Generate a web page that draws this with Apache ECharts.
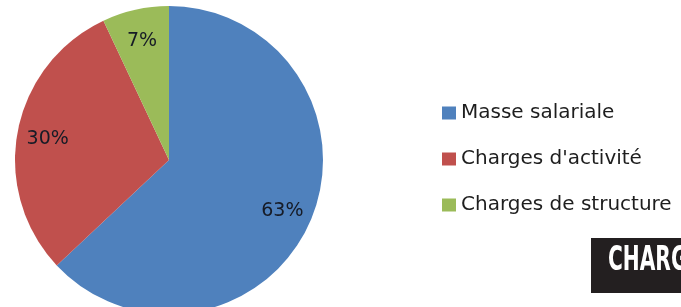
<!DOCTYPE html>
<html>
<head>
<meta charset="utf-8">
<script src="https://cdn.jsdelivr.net/npm/echarts@6/dist/echarts.min.js"></script>
<style>
  html, body { margin: 0; padding: 0; background: #fff; }
  #chart { width: 681px; height: 307px; }
</style>
</head>
<body>
<div id="chart"></div>
<script>
var categories = ['Masse salariale', "Charges d'activité", 'Charges de structure'];
var values = [63, 30, 7];
var colors = ['#4f81bd', '#c0504d', '#9bbb59'];

var chartDom = document.getElementById('chart');
var myChart = echarts.init(chartDom);

var pieData = categories.map(function (name, i) {
    return { name: name, value: values[i], itemStyle: { color: colors[i] } };
});
var labelData = categories.map(function (name, i) {
    return { name: name, value: values[i] };
});

var option = {
    animation: false,
    backgroundColor: '#fff',
    legend: {
        orient: 'vertical',
        left: 442,
        top: 103,
        padding: 0,
        itemWidth: 14,
        itemHeight: 13,
        itemGap: 26,
        icon: 'rect',
        data: categories,
        textStyle: {
            fontFamily: 'DejaVu Sans',
            fontSize: 20,
            lineHeight: 20,
            color: '#1e1e1e'
        }
    },
    series: [
        {
            type: 'pie',
            center: [169, 160],
            radius: 154,
            startAngle: 90,
            silent: true,
            label: { show: false },
            labelLine: { show: false },
            data: pieData
        },
        {
            // transparent ring only used to place the percentage labels
            type: 'pie',
            center: [169, 162],
            radius: [88, 153],
            startAngle: 90,
            silent: true,
            itemStyle: { color: 'rgba(0,0,0,0)' },
            label: {
                show: true,
                position: 'inside',
                formatter: function (p) { return p.value + '%'; },
                fontFamily: 'DejaVu Sans',
                fontSize: 19,
                color: '#161b26'
            },
            labelLine: { show: false },
            data: labelData
        }
    ],
    graphic: [
        {
            type: 'rect',
            left: 591,
            top: 238,
            shape: { width: 95, height: 55 },
            style: { fill: '#231f20' }
        },
        {
            type: 'text',
            x: 608,
            y: 278,
            scaleX: 0.68,
            style: {
                text: 'CHARG',
                fill: '#fff',
                font: 'bold 33px "Liberation Sans Narrow", "DejaVu Sans Condensed", sans-serif',
                textVerticalAlign: 'bottom'
            }
        }
    ]
};

option && myChart.setOption(option);
</script>
</body>
</html>
